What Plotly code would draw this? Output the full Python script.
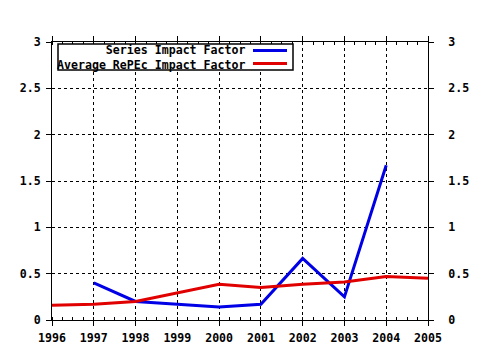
import plotly.graph_objects as go

years = [1996, 1997, 1998, 1999, 2000, 2001, 2002, 2003, 2004, 2005]
series_if = [None, 0.40, 0.20, 0.17, 0.14, 0.17, 0.665, 0.25, 1.67, None]
avg_repec_if = [0.16, 0.17, 0.20, 0.29, 0.385, 0.35, 0.385, 0.41, 0.47, 0.45]
legend_labels = ["Series Impact Factor", "Average RePEc Impact Factor"]
colors = ["#0000e6", "#e00000"]
ytick_vals = [0, 0.5, 1, 1.5, 2, 2.5, 3]
ytick_text = ["0", "0.5", "1", "1.5", "2", "2.5", "3"]

W, H = 480, 350
L, R, T, B = 52, 52, 42, 30
pw, ph = W - L - R, H - T - B

def px(x):
    return (x - L) / pw

def py(y):
    return (H - B - y) / ph

TF = dict(family="DejaVu Sans Mono", size=11.6, color="black", weight="bold")

fig = go.Figure()
fig.add_trace(go.Scatter(x=years, y=series_if, mode="lines",
                         line=dict(color=colors[0], width=3),
                         name=legend_labels[0], showlegend=False))
fig.add_trace(go.Scatter(x=years, y=avg_repec_if, mode="lines",
                         line=dict(color=colors[1], width=3),
                         name=legend_labels[1], showlegend=False))
fig.add_trace(go.Scatter(x=[years[0]], y=[0], yaxis="y2", mode="markers",
                         marker=dict(opacity=0), showlegend=False,
                         hoverinfo="skip"))

fig.update_layout(
    width=W, height=H,
    margin=dict(l=L, r=R, t=T, b=B, autoexpand=False),
    paper_bgcolor="white", plot_bgcolor="white",
    font=dict(family="DejaVu Sans Mono", size=11.6, color="black"),
    xaxis=dict(range=[1996, 2005], tickmode="linear", tick0=1996, dtick=1,
               showgrid=True, gridcolor="black", griddash="dot", gridwidth=1,
               showline=True, linecolor="black", linewidth=1, mirror="ticks",
               ticks="outside", ticklen=5, tickcolor="black", ticklabelstandoff=2,
               minor=dict(ticks="inside", dtick=0.25, ticklen=3, tickcolor="black", showgrid=False),
               tickfont=TF, automargin=False, zeroline=False),
    yaxis=dict(range=[0, 3], tickmode="array", tickvals=ytick_vals, ticktext=ytick_text,
               showgrid=True, gridcolor="black", griddash="dot", gridwidth=1,
               showline=True, linecolor="black", linewidth=1, mirror=True,
               ticks="outside", ticklen=5, tickcolor="black", ticklabelstandoff=3,
               tickfont=TF, automargin=False, zeroline=False),
    yaxis2=dict(range=[0, 3], overlaying="y", side="right", tickmode="array",
                tickvals=ytick_vals, ticktext=ytick_text,
                showgrid=False, ticks="outside", ticklen=5, tickcolor="black",
                ticklabelstandoff=12, tickfont=TF, automargin=False,
                zeroline=False, showline=False),
)

# legend box
fig.add_shape(type="rect", xref="paper", yref="paper",
              x0=px(58), x1=px(293), y0=py(70), y1=py(44),
              line=dict(color="black", width=1.5), fillcolor="white", layer="above")
fig.add_annotation(xref="paper", yref="paper", x=px(247), y=py(57),
                   text="<br>".join(legend_labels), showarrow=False,
                   xanchor="right", yanchor="middle", align="right",
                   font=TF)
for i, c in enumerate(colors):
    yy = 50.5 + i * 13
    fig.add_shape(type="line", xref="paper", yref="paper",
                  x0=px(253), x1=px(287), y0=py(yy), y1=py(yy),
                  line=dict(color=c, width=3), layer="above")

fig.write_html("out.html")
